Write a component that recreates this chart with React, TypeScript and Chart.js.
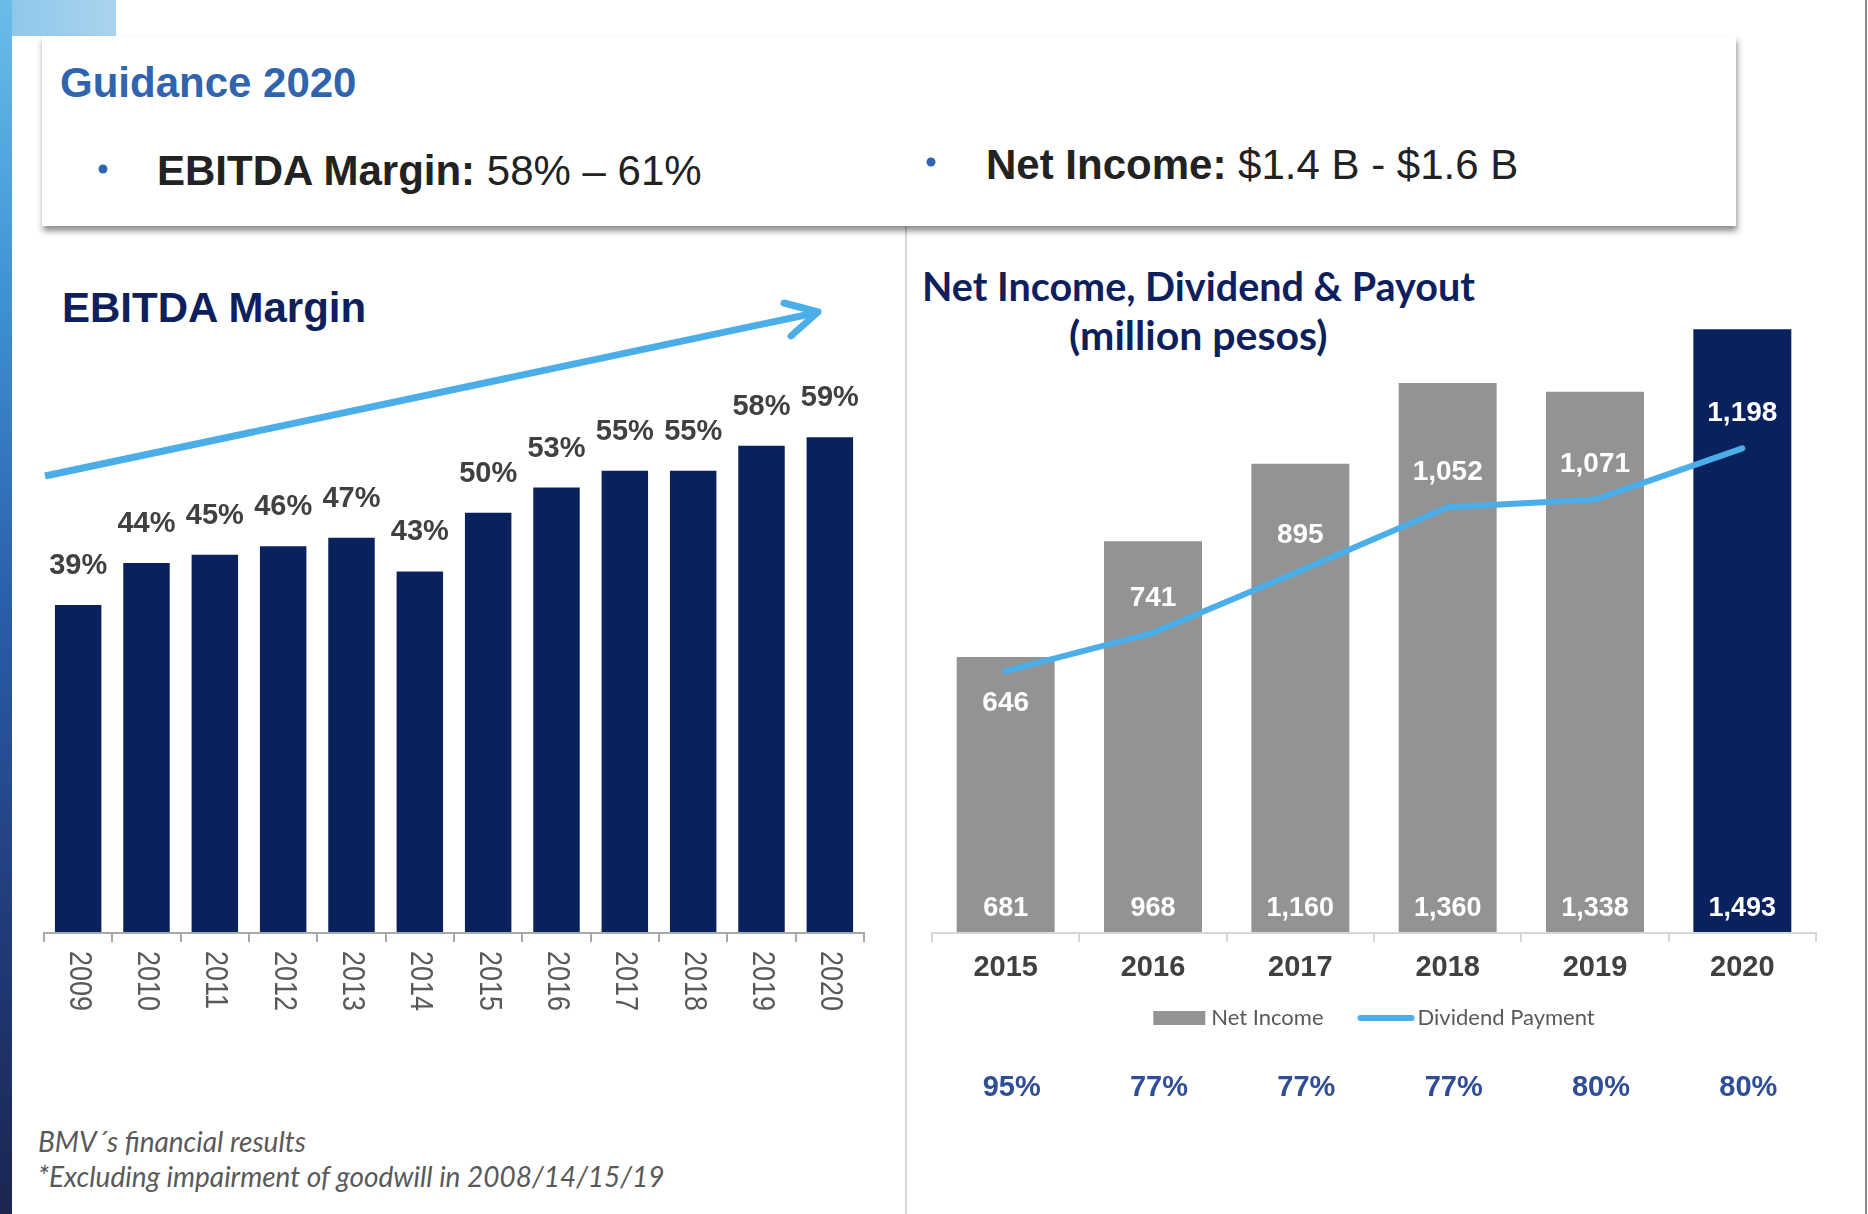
import React, { useEffect, useRef } from 'react';
import { Chart, registerables } from 'chart.js';

Chart.register(...registerables);

// ---------- data ----------
const ebitdaYears = ['2009', '2010', '2011', '2012', '2013', '2014', '2015', '2016', '2017', '2018', '2019', '2020'];
const ebitdaMargin = [39, 44, 45, 46, 47, 43, 50, 53, 55, 55, 58, 59];

const niYears = ['2015', '2016', '2017', '2018', '2019', '2020'];
const netIncome = [681, 968, 1160, 1360, 1338, 1493];
const dividend = [646, 741, 895, 1052, 1071, 1198];
const payout = [95, 77, 77, 77, 80, 80];

// ---------- styles ----------
const W = 1868;
const H = 1214;
const NAVY = '#09215C';
const GRAY_BAR = '#939393';
const SKY = '#4BAEE8';
const TITLE_NAVY = '#0D1F5C';
const ARIAL = "'Liberation Sans', Arial, sans-serif";
const CAL = "Lato, 'Open Sans', sans-serif";
const fmt = (v: number) => v.toLocaleString('en-US');

const leftDecor = {
  id: 'leftDecor',
  afterDatasetsDraw(chart: any) {
    const { ctx, chartArea: a, scales } = chart;
    const x = scales.x;
    const labels: string[] = chart.data.labels;
    const values: number[] = chart.data.datasets[0].data;
    const n = labels.length;
    ctx.save();
    ctx.strokeStyle = '#A8A8A8';
    ctx.lineWidth = 2;
    ctx.beginPath();
    ctx.moveTo(a.left, a.bottom + 1);
    ctx.lineTo(a.right, a.bottom + 1);
    for (let i = 0; i <= n; i++) {
      const px = Math.round(x.getPixelForValue(i - 0.5));
      ctx.moveTo(px, a.bottom);
      ctx.lineTo(px, a.bottom + 10);
    }
    ctx.stroke();

    ctx.fillStyle = '#595959';
    ctx.font = `31px ${ARIAL}`;
    ctx.textAlign = 'left';
    ctx.textBaseline = 'middle';
    labels.forEach((lab, i) => {
      const px = x.getPixelForValue(i);
      ctx.save();
      ctx.translate(px, a.bottom + 19);
      ctx.rotate(Math.PI / 2);
      ctx.scale(0.87, 1);
      ctx.fillText(lab, 0, 0);
      ctx.restore();
    });

    const meta = chart.getDatasetMeta(0);
    ctx.fillStyle = '#404040';
    ctx.font = `bold 29px ${ARIAL}`;
    ctx.textAlign = 'center';
    ctx.textBaseline = 'alphabetic';
    meta.data.forEach((el: any, i: number) => {
      ctx.fillText(`${values[i]}%`, el.x, el.y - 31);
    });
    ctx.restore();
  },
};

const rightDecor = {
  id: 'rightDecor',
  afterDatasetsDraw(chart: any) {
    const { ctx, chartArea: a, scales } = chart;
    const x = scales.x;
    const labels: string[] = chart.data.labels;
    const ni: number[] = chart.data.datasets[0].data;
    const dv: number[] = chart.data.datasets[1].data;
    const bars = chart.getDatasetMeta(0).data;
    const pts = chart.getDatasetMeta(1).data;
    const n = labels.length;
    ctx.save();
    // axis
    ctx.strokeStyle = '#D6D6D6';
    ctx.lineWidth = 2;
    ctx.beginPath();
    ctx.moveTo(a.left, a.bottom + 1);
    ctx.lineTo(a.right, a.bottom + 1);
    for (let i = 0; i <= n; i++) {
      const px = Math.round(x.getPixelForValue(i - 0.5));
      ctx.moveTo(px, a.bottom);
      ctx.lineTo(px, a.bottom + 10);
    }
    ctx.stroke();

    // net income labels (inside bars, at the bottom)
    ctx.fillStyle = '#FFFFFF';
    ctx.font = `bold 27px ${ARIAL}`;
    ctx.textAlign = 'center';
    ctx.textBaseline = 'alphabetic';
    bars.forEach((b: any, i: number) => ctx.fillText(fmt(ni[i]), b.x, a.bottom - 16));

    // dividend labels
    ctx.font = `bold 28px ${ARIAL}`;
    ctx.textBaseline = 'middle';
    pts.forEach((p: any, i: number) => {
      let y = p.y - 35;
      if (y - 14 < bars[i].y) y = p.y + 32;
      ctx.fillText(fmt(dv[i]), p.x, y);
    });

    // category labels
    ctx.fillStyle = '#404040';
    ctx.font = `bold 29px ${ARIAL}`;
    labels.forEach((l, i) => ctx.fillText(l, x.getPixelForValue(i), a.bottom + 36));

    // legend
    const ly = a.bottom + 86;
    ctx.font = `22px ${CAL}`;
    const t1 = chart.data.datasets[0].label;
    const t2 = chart.data.datasets[1].label;
    const w1 = ctx.measureText(t1).width;
    const w2 = ctx.measureText(t2).width;
    const total = 52 + 6 + w1 + 34 + 57 + 3 + w2;
    let lx = (a.left + a.right) / 2 - total / 2;
    ctx.fillStyle = GRAY_BAR;
    ctx.fillRect(lx, ly - 7, 52, 14);
    lx += 58;
    ctx.fillStyle = '#595959';
    ctx.textAlign = 'left';
    ctx.fillText(t1, lx, ly);
    lx += w1 + 34;
    ctx.strokeStyle = SKY;
    ctx.lineWidth = 6;
    ctx.lineCap = 'round';
    ctx.beginPath();
    ctx.moveTo(lx + 3, ly);
    ctx.lineTo(lx + 54, ly);
    ctx.stroke();
    lx += 60;
    ctx.fillText(t2, lx, ly);

    // payout row
    ctx.fillStyle = '#2F4E96';
    ctx.font = `bold 29px ${ARIAL}`;
    ctx.textAlign = 'center';
    payout.forEach((v, i) => ctx.fillText(`${v}%`, x.getPixelForValue(i) + 6, a.bottom + 156));
    ctx.restore();
  },
};

function Charts() {
  const leftRef = useRef<HTMLCanvasElement>(null);
  const rightRef = useRef<HTMLCanvasElement>(null);

  useEffect(() => {
    const left = new Chart(leftRef.current as HTMLCanvasElement, {
      type: 'bar',
      data: {
        labels: ebitdaYears,
        datasets: [
          {
            label: 'EBITDA Margin',
            data: ebitdaMargin,
            backgroundColor: NAVY,
            barPercentage: 0.68,
            categoryPercentage: 1,
          },
        ],
      },
      options: {
        responsive: false,
        animation: false,
        layout: { padding: { left: 44, right: W - 864, top: 345, bottom: H - 932 } },
        scales: {
          x: { display: false },
          y: { display: false, min: 0, max: 70 },
        },
        plugins: { legend: { display: false }, tooltip: { enabled: false } },
      },
      plugins: [leftDecor],
    });

    const right = new Chart(rightRef.current as HTMLCanvasElement, {
      type: 'bar',
      data: {
        labels: niYears,
        datasets: [
          {
            type: 'bar',
            label: 'Net Income',
            data: netIncome,
            backgroundColor: (c: any) => (c.dataIndex === netIncome.length - 1 ? NAVY : GRAY_BAR),
            barPercentage: 0.665,
            categoryPercentage: 1,
            order: 1,
          },
          {
            type: 'line',
            label: 'Dividend Payment',
            data: dividend,
            borderColor: SKY,
            borderWidth: 6,
            pointRadius: 0,
            tension: 0,
            order: 0,
            borderCapStyle: 'round',
            borderJoinStyle: 'round',
          },
        ] as any,
      },
      options: {
        responsive: false,
        animation: false,
        layout: { padding: { left: 932, right: W - 1816, top: 286, bottom: H - 932 } },
        scales: {
          x: { display: false },
          y: { display: false, min: 0, max: 1600 },
        },
        plugins: { legend: { display: false }, tooltip: { enabled: false } },
      },
      plugins: [rightDecor],
    });

    return () => {
      left.destroy();
      right.destroy();
    };
  }, []);

  const cs: React.CSSProperties = { position: 'absolute', left: 0, top: 0, width: W, height: H };
  return (
    <>
      <canvas ref={leftRef} width={W} height={H} style={cs} />
      <canvas ref={rightRef} width={W} height={H} style={cs} />
    </>
  );
}

export default function App() {
  return (
    <div style={{ position: 'absolute', left: 0, top: 0, width: W, height: H, overflow: 'hidden', background: '#fff' }}>
      <svg width={W} height={H} style={{ position: 'absolute', left: 0, top: 0 }}>
        <defs>
          <linearGradient id="strip" x1="0" y1="0" x2="0" y2="1">
            <stop offset="0" stopColor="#6ABDEA" />
            <stop offset="0.25" stopColor="#3E91D2" />
            <stop offset="0.5" stopColor="#2A5EA9" />
            <stop offset="0.75" stopColor="#213C7C" />
            <stop offset="1" stopColor="#1B2550" />
          </linearGradient>
          <linearGradient id="corner" x1="0" y1="0" x2="1" y2="0">
            <stop offset="0" stopColor="#8CC6EA" />
            <stop offset="1" stopColor="#A9D4EF" />
          </linearGradient>
          <filter id="sh" x="-5%" y="-20%" width="110%" height="150%">
            <feDropShadow dx="1" dy="5" stdDeviation="3" floodColor="#000" floodOpacity="0.45" />
          </filter>
        </defs>
        <rect x={0} y={0} width={W} height={H} fill="#fff" />
        <rect x={0} y={0} width={116} height={36} fill="url(#corner)" />
        <rect x={0} y={0} width={12} height={H} fill="url(#strip)" />
        <line x1={906} y1={226} x2={906} y2={H} stroke="#D6D6D6" strokeWidth={2} />
        <line x1={1866} y1={0} x2={1866} y2={H} stroke="#8A8A8A" strokeWidth={2} />
        <rect x={42} y={36} width={1694} height={190} fill="#fff" filter="url(#sh)" />

        <text x={60} y={97} fontFamily={ARIAL} fontWeight="bold" fontSize={42} fill="#2F64AE">Guidance 2020</text>
        <circle cx={103} cy={169} r={4.5} fill="#2F64AE" />
        <text x={157} y={185} fontFamily={ARIAL} fontSize={42} fill="#222">
          <tspan fontWeight="bold">EBITDA Margin:</tspan> 58% – 61%
        </text>
        <circle cx={931} cy={162} r={4.5} fill="#2F64AE" />
        <text x={986} y={179} fontFamily={ARIAL} fontSize={42} fill="#222">
          <tspan fontWeight="bold">Net Income:</tspan> $1.4 B - $1.6 B
        </text>

        <text x={62} y={322} fontFamily={ARIAL} fontWeight="bold" fontSize={42} fill={TITLE_NAVY}>EBITDA Margin</text>
        <text x={922} y={301} fontFamily={CAL} fontWeight="bold" fontSize={39.5} fill={TITLE_NAVY}>Net Income, Dividend &amp; Payout</text>
        <text x={1069} y={350} fontFamily={CAL} fontWeight="bold" fontSize={41} fill={TITLE_NAVY}>(million pesos)</text>

        <line x1={45} y1={476} x2={815} y2={313} stroke={SKY} strokeWidth={7} />
        <polyline points="784,303 818,312 791,336" fill="none" stroke={SKY} strokeWidth={7} strokeLinecap="round" strokeLinejoin="round" />

        <text x={38} y={1152} fontFamily={CAL} fontStyle="italic" fontSize={28} fill="#595959">BMV´s financial results</text>
        <text x={38} y={1187} fontFamily={CAL} fontStyle="italic" fontSize={28} fill="#595959">*Excluding impairment of goodwill in 2008/14/15/19</text>
      </svg>
      <Charts />
    </div>
  );
}
